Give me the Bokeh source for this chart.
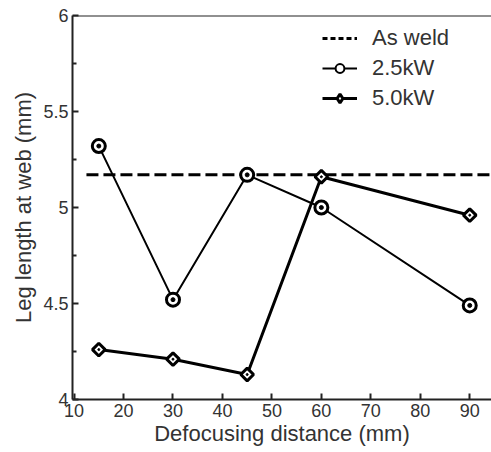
import numpy as np
from bokeh.plotting import figure
from bokeh.models import FixedTicker, Legend, LegendItem, Range1d, Span
from bokeh.embed import file_html
from bokeh.resources import INLINE

# ---- data ----
distance = [15, 30, 45, 60, 90]
leg_25kw = [5.32, 4.52, 5.17, 5.00, 4.49]
leg_50kw = [4.26, 4.21, 4.13, 5.16, 4.96]
as_weld = 5.17
x_ticks = [10, 20, 30, 40, 50, 60, 70, 80, 90]
y_ticks = [4, 4.5, 5, 5.5, 6]
y_minor_ticks = [4.25, 4.75, 5.25, 5.75]
y_tick_labels = {4: "4", 4.5: "4.5", 5: "5", 5.5: "5.5", 6: "6"}

FONT = "Liberation Sans"
TXT = "#333333"

p = figure(width=491, height=452, output_backend="svg", toolbar_location=None,
           x_range=Range1d(9.68, 94.4), y_range=Range1d(4, 6),
           min_border_left=72, min_border_right=0, min_border_top=15, min_border_bottom=53)
p.outline_line_color = None
p.xgrid.visible = False
p.ygrid.visible = False
p.background_fill_color = "white"

xax = p.below[0]
yax = p.left[0]

for ax in (xax, yax):
    ax.axis_line_width = 2
    ax.axis_line_color = "#222222"
    ax.major_tick_in = 6
    ax.major_tick_out = 0
    ax.major_tick_line_width = 2
    ax.major_tick_line_color = "#222222"
    ax.minor_tick_in = 4
    ax.minor_tick_out = 0
    ax.minor_tick_line_width = 2
    ax.minor_tick_line_color = "#222222"
    ax.major_label_text_font = FONT
    ax.major_label_text_font_size = "18px"
    ax.major_label_text_color = TXT
    ax.axis_label_text_font = FONT
    ax.axis_label_text_font_size = "22px"
    ax.axis_label_text_font_style = "normal"
    ax.axis_label_text_color = TXT

xax.ticker = FixedTicker(ticks=x_ticks, minor_ticks=[])
yax.ticker = FixedTicker(ticks=y_ticks, minor_ticks=y_minor_ticks)
yax.major_label_overrides = y_tick_labels
xax.axis_label = "Defocusing distance (mm)"
yax.axis_label = "Leg length at web (mm)"
xax.major_label_standoff = 4
yax.major_label_standoff = 4
xax.axis_label_standoff = 1
yax.axis_label_standoff = 4

# top frame line
p.add_layout(Span(location=6, dimension="width", line_color="#222222", line_width=2))

# as weld reference
p.line([12.5, 100], [as_weld, as_weld], line_color="black", line_width=3, line_dash="12 5")
nan1 = np.array([np.nan])
aw_leg = p.line(nan1, nan1, line_color="black", line_width=3, line_dash="5 3")

# 2.5 kW
l25 = p.line(distance, leg_25kw, line_color="black", line_width=2)
m25 = p.scatter(distance, leg_25kw, marker="circle", size=13, line_color="black",
                line_width=3, fill_color="white")
d25 = p.scatter(distance, leg_25kw, marker="circle", size=4, line_color="black",
                line_width=1, fill_color="black")

# 5.0 kW
l50 = p.line(distance, leg_50kw, line_color="black", line_width=3)
m50 = p.scatter(distance, leg_50kw, marker="square", angle=np.pi / 4, size=9,
                line_color="black", line_width=3, fill_color="white")
d50 = p.scatter(distance, leg_50kw, marker="circle", size=2, line_color="black",
                line_width=1, fill_color="black")

# legend-only glyphs
lg25 = p.scatter(nan1, nan1, marker="circle", size=10, line_color="black",
                 line_width=2, fill_color="white")
lg50 = p.scatter(nan1, nan1, marker="diamond", size=12, line_color="black",
                 line_width=3, fill_color="white")

legend = Legend(items=[
    LegendItem(label="As weld", renderers=[aw_leg]),
    LegendItem(label="2.5kW", renderers=[l25, lg25]),
    LegendItem(label="5.0kW", renderers=[l50, lg50]),
], location=(250, 288), padding=0, margin=0, spacing=4,
    glyph_width=35, glyph_height=22, label_height=22, label_standoff=15,
    label_text_font=FONT, label_text_font_size="22px", label_text_color=TXT,
    border_line_color=None, background_fill_alpha=0)
p.add_layout(legend, "center")

open("out.html", "w").write(file_html(p, INLINE))
